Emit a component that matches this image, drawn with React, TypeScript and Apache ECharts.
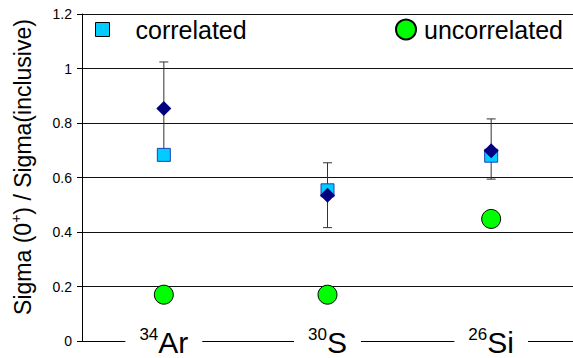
import React, { useEffect, useRef } from "react";
import * as echarts from "echarts";

const massNumbers = ["34", "30", "26"];
const elements = ["Ar", "S", "Si"];
const correlated = [0.683, 0.553, 0.68];
const uncorrelated = [0.17, 0.17, 0.448];
const measured = [0.853, 0.535, 0.698];
const errLow = [0.685, 0.416, 0.594];
const errHigh = [1.024, 0.654, 0.815];
const yTicks = { min: 0, max: 1.2, interval: 0.2 };

const FONT = "Liberation Sans, Arial, Helvetica, sans-serif";

export default function App() {
  const ref = useRef<HTMLDivElement>(null);
  useEffect(() => {
    if (!ref.current) return;
    const chart = echarts.init(ref.current, undefined, { renderer: "svg" });
    const categories = elements.map((e, i) => massNumbers[i] + e);
    const errData = categories.map((_, i) => [i, errLow[i], errHigh[i]]);
    chart.setOption({
      animation: false,
      textStyle: { fontFamily: FONT },
      grid: { left: 82, right: 0, top: 14, bottom: 12 },
      legend: [
        {
          data: [{ name: "correlated", icon: "rect" }],
          left: 95,
          top: 17,
          padding: 0,
          itemWidth: 14,
          itemHeight: 14,
          itemGap: 0,
          itemStyle: { borderColor: "#000", borderWidth: 1 },
          textStyle: { fontSize: 25, color: "#000", fontFamily: FONT, padding: [0, 0, 0, 21] },
        },
        {
          data: [{ name: "uncorrelated", icon: "circle" }],
          left: 395,
          top: 17,
          padding: 0,
          itemWidth: 20,
          itemHeight: 20,
          textStyle: { fontSize: 25, color: "#000", fontFamily: FONT, padding: [0, 0, 0, 3] },
        },
      ],
      xAxis: {
        type: "category",
        data: categories,
        z: 5,
        boundaryGap: true,
        axisLine: { show: true, lineStyle: { color: "#000", width: 1 } },
        axisTick: { show: false },
        splitLine: { show: false },
        axisLabel: {
          margin: -15,
          formatter: (v: string, i: number) => `{sup|${massNumbers[i]}}{main|${elements[i]}}`,
          backgroundColor: "#fff",
          padding: [0, 14],
          rich: {
            sup: { fontSize: 17, lineHeight: 24, verticalAlign: "top", color: "#000", fontFamily: FONT },
            main: { fontSize: 30, lineHeight: 32, color: "#000", fontFamily: FONT },
          },
        },
      },
      yAxis: {
        type: "value",
        min: yTicks.min,
        max: yTicks.max,
        interval: yTicks.interval,
        axisLine: { show: true, lineStyle: { color: "#000", width: 1 } },
        axisTick: { show: true, length: 5, lineStyle: { color: "#000" } },
        axisLabel: { fontSize: 14, color: "#000", margin: 10, fontFamily: FONT },
        splitLine: { show: true, lineStyle: { color: "#111", width: 1 } },
      },
      graphic: [
        {
          type: "text",
          x: 23,
          y: 167,
          rotation: Math.PI / 2,
          style: {
            text: "{a|Sigma (0}{s|+}{a|) / Sigma(inclusive)}",
            align: "center",
            verticalAlign: "middle",
            rich: {
              a: { fontSize: 23, lineHeight: 28, fill: "#000", fontFamily: FONT },
              s: { fontSize: 14, lineHeight: 22, verticalAlign: "top", fill: "#000", fontFamily: FONT },
            },
          },
        },
      ],
      series: [
        {
          type: "custom",
          name: "error",
          data: errData,
          encode: { x: 0, y: [1, 2] },
          z: 1,
          renderItem: (params: any, api: any) => {
            const x = api.value(0);
            const pHi = api.coord([x, api.value(2)]);
            const pLo = api.coord([x, api.value(1)]);
            const hw = 4.5;
            const st = { stroke: "#333", lineWidth: 1 };
            return {
              type: "group",
              children: [
                { type: "line", shape: { x1: pHi[0], y1: pHi[1], x2: pLo[0], y2: pLo[1] }, style: st },
                { type: "line", shape: { x1: pHi[0] - hw, y1: pHi[1], x2: pHi[0] + hw, y2: pHi[1] }, style: st },
                { type: "line", shape: { x1: pLo[0] - hw, y1: pLo[1], x2: pLo[0] + hw, y2: pLo[1] }, style: st },
              ],
            };
          },
        },
        {
          type: "scatter",
          name: "correlated",
          data: correlated,
          symbol: "rect",
          symbolSize: 13,
          z: 2,
          itemStyle: { color: "#00CCFF", borderColor: "#1f3fbf", borderWidth: 1, opacity: 1 },
        },
        {
          type: "scatter",
          name: "measured",
          data: measured,
          symbol: "diamond",
          symbolSize: 15,
          z: 3,
          itemStyle: { color: "#000080", opacity: 1 },
        },
        {
          type: "scatter",
          name: "uncorrelated",
          data: uncorrelated,
          symbol: "circle",
          symbolSize: 19,
          z: 4,
          itemStyle: { color: "#00FF00", borderColor: "#000", borderWidth: 1, opacity: 1 },
        },
      ],
    });
    return () => chart.dispose();
  }, []);
  return <div ref={ref} style={{ width: 573, height: 358, position: "absolute", left: 0, top: 0 }} />;
}
